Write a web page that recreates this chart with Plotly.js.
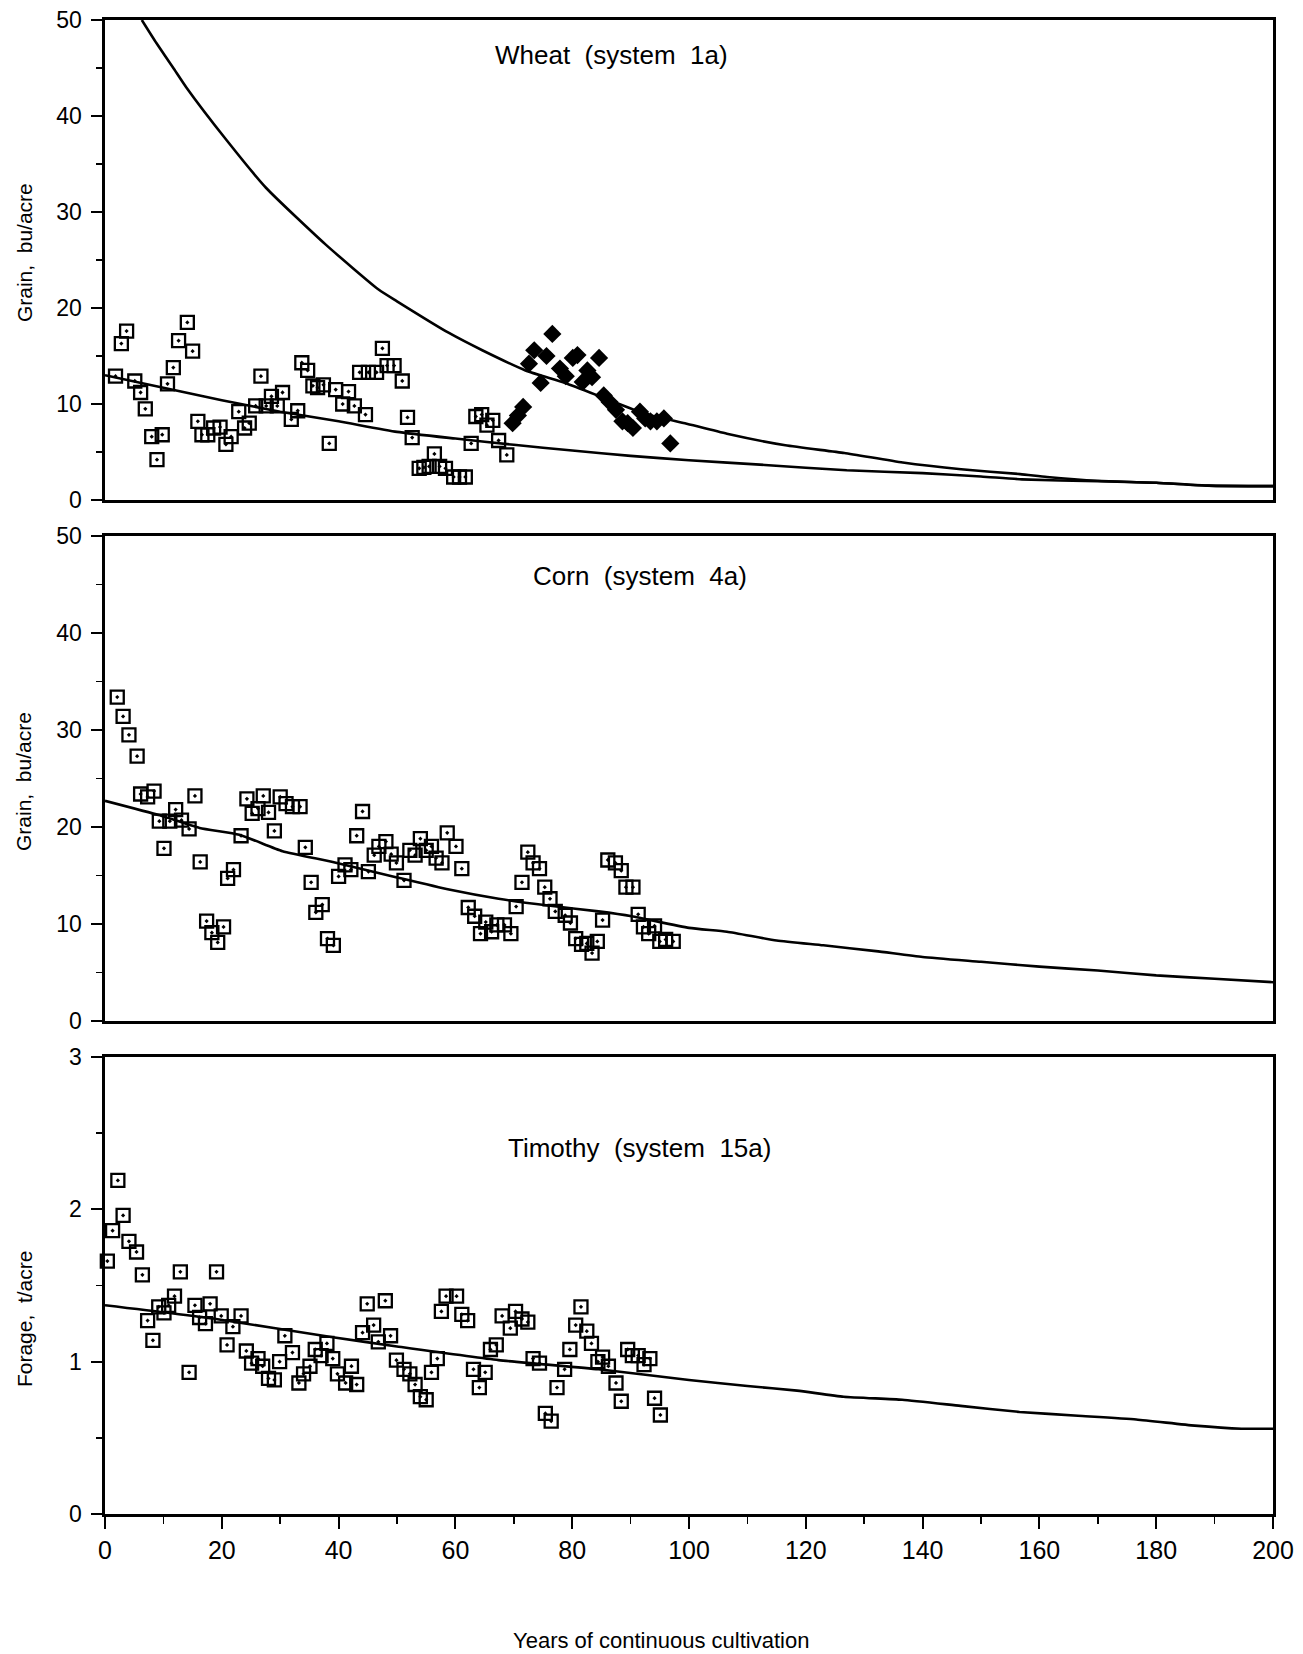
<!DOCTYPE html>
<html>
<head>
<meta charset="utf-8">
<script src="https://cdn.plot.ly/plotly-3.0.1.min.js"></script>
<style>html,body{margin:0;padding:0;background:#fff;}#chart{width:1303px;height:1654px;}</style>
</head>
<body>
<div id="chart"></div>
<script>
// ---- Wheat (system 1a) ----
var wheatYears = [1.8,2.8,3.7,5.1,6.1,6.9,8.0,8.9,9.8,10.7,11.7,12.6,14.1,15.0,15.9,16.6,17.6,18.6,19.7,20.7,21.6,22.9,23.9,24.7,25.8,26.7,27.6,28.5,29.5,30.4,31.9,33.0,33.7,34.7,35.6,36.4,37.4,38.4,39.5,40.7,41.7,42.7,43.6,44.6,45.1,46.5,47.5,48.3,49.5,50.9,51.8,52.6,53.8,54.6,55.5,56.4,57.3,58.3,59.7,60.7,61.7,62.7,63.5,64.5,65.4,66.4,67.4,68.8];
var wheatYield = [12.9,16.3,17.6,12.4,11.2,9.5,6.6,4.2,6.8,12.1,13.8,16.6,18.5,15.5,8.2,6.8,6.8,7.5,7.6,5.8,6.6,9.2,7.5,8.0,9.8,12.9,9.8,10.8,9.8,11.2,8.4,9.3,14.3,13.5,11.9,11.7,12.0,5.9,11.5,10.0,11.3,9.8,13.3,8.9,13.3,13.3,15.8,14.0,14.0,12.4,8.6,6.5,3.3,3.4,3.5,4.8,3.5,3.3,2.4,2.4,2.4,5.9,8.7,8.9,7.8,8.3,6.2,4.7];
var wheatLaterYears = [69.8,70.7,71.6,72.6,73.5,74.6,75.6,76.6,77.9,78.9,80.1,80.9,81.8,82.6,83.4,84.6,85.4,86.4,87.5,88.6,89.5,90.4,91.6,92.5,93.4,94.5,95.7,96.8];
var wheatLaterYield = [8.0,8.8,9.7,14.2,15.6,12.2,15.0,17.3,13.7,12.9,14.8,15.1,12.3,13.5,12.8,14.8,10.9,10.2,9.4,8.2,8.0,7.5,9.2,8.5,8.2,8.2,8.5,5.9];
var wheatUpperCurveX = [6.3,8.8,11.7,13.9,20.8,27.6,37.8,46.9,50,58.9,64.6,72,78.8,85.6,92.4,99.3,106.5,116.5,126.6,136.6,146.6,156.7,161.3,170,180,188.8,200];
var wheatUpperCurveY = [50,47.6,45.0,43.0,37.5,32.5,26.6,21.9,20.7,17.4,15.6,13.5,12.2,10.6,9.0,8.0,6.9,5.7,4.9,3.9,3.2,2.7,2.4,2.0,1.8,1.5,1.45];
var wheatLowerCurveX = [0,10,20,30,40,50,60,70,80,90,100,113,127,140,150,157,170,180,189,200];
var wheatLowerCurveY = [13.0,11.7,10.4,9.2,8.2,7.1,6.4,5.75,5.15,4.6,4.15,3.65,3.1,2.8,2.45,2.15,1.95,1.8,1.5,1.45];

// ---- Corn (system 4a) ----
var cornYears = [2.1,3.1,4.1,5.5,6.1,7.3,8.4,9.3,10.1,11.1,12.1,13.1,14.4,15.4,16.3,17.4,18.3,19.3,20.3,21.0,22.0,23.3,24.3,25.2,26.2,27.1,28.0,29.0,30.0,31.0,32.1,33.4,34.3,35.3,36.1,37.2,38.1,39.1,40.0,41.1,42.1,43.1,44.1,45.1,46.1,46.9,48.1,49.0,49.9,51.2,52.2,53.1,54.0,55.0,55.9,56.7,57.7,58.6,60.1,61.1,62.2,63.3,64.3,65.2,66.2,67.1,68.4,69.5,70.4,71.4,72.4,73.3,74.4,75.3,76.2,77.1,78.8,79.7,80.6,81.6,82.5,83.4,84.3,85.2,86.1,87.4,88.4,89.2,90.4,91.3,92.2,93.1,94.1,95.0,96.0,97.3];
var cornYield = [33.4,31.4,29.5,27.3,23.4,23.1,23.7,20.6,17.8,20.6,21.8,20.7,19.8,23.2,16.4,10.3,9.1,8.1,9.7,14.7,15.6,19.1,22.9,21.4,21.9,23.2,21.5,19.6,23.1,22.4,22.1,22.1,17.9,14.3,11.2,12.0,8.5,7.8,14.9,16.1,15.6,19.1,21.6,15.4,17.1,18.0,18.5,17.2,16.3,14.5,17.6,17.1,18.8,17.6,18.0,16.8,16.3,19.4,18.0,15.7,11.7,10.8,9.0,10.2,9.2,9.9,9.9,9.0,11.8,14.3,17.4,16.3,15.7,13.8,12.6,11.3,10.9,10.1,8.5,7.9,8.0,7.0,8.2,10.4,16.6,16.3,15.5,13.8,13.8,11.0,9.7,9.0,9.8,8.2,8.4,8.2];
var cornCurveX = [0,9.4,16.2,23,30.4,39,50,58.9,67.4,75.9,84.5,90.2,100,106.5,115,123,132,140,150,160,170,180,190,200];
var cornCurveY = [22.7,21.2,19.9,19.2,17.5,16.4,14.8,13.55,12.6,11.9,11.3,10.8,9.6,9.2,8.3,7.8,7.2,6.6,6.1,5.6,5.2,4.7,4.35,4.0];

// ---- Timothy (system 15a) ----
var timothyYears = [0.4,1.3,2.2,3.1,4.1,5.4,6.4,7.3,8.2,9.2,10.1,10.9,11.9,12.9,14.4,15.4,16.2,17.2,18.0,19.1,19.9,20.9,21.9,23.3,24.2,25.1,26.2,27.0,28.0,29.0,29.9,30.8,32.1,33.2,34.0,35.1,36.0,37.0,38.0,39.0,39.8,41.2,42.2,43.1,44.1,44.9,46.0,46.8,48.0,48.9,49.9,51.2,52.2,53.1,54.0,55.0,55.9,56.9,57.6,58.4,60.2,61.1,62.1,63.1,64.1,65.1,66.0,67.0,68.0,69.4,70.3,71.4,72.4,73.3,74.4,75.4,76.4,77.4,78.7,79.6,80.6,81.5,82.5,83.3,84.4,85.2,86.2,87.5,88.4,89.5,90.3,91.3,92.3,93.3,94.1,95.1];
var timothyYield = [1.66,1.86,2.19,1.96,1.79,1.72,1.57,1.27,1.14,1.36,1.32,1.37,1.43,1.59,0.93,1.37,1.29,1.25,1.38,1.59,1.30,1.11,1.23,1.30,1.07,0.99,1.02,0.97,0.89,0.88,1.00,1.17,1.06,0.86,0.92,0.97,1.08,1.04,1.12,1.02,0.92,0.86,0.97,0.85,1.19,1.38,1.24,1.13,1.40,1.17,1.01,0.95,0.92,0.85,0.77,0.75,0.93,1.02,1.33,1.43,1.43,1.31,1.27,0.95,0.83,0.93,1.08,1.11,1.30,1.22,1.33,1.28,1.26,1.02,0.99,0.66,0.61,0.83,0.95,1.08,1.24,1.36,1.20,1.12,1.00,1.03,0.97,0.86,0.74,1.08,1.04,1.04,0.98,1.02,0.76,0.65];
var timothyCurveX = [0,19,39,50,67.4,84.5,100,110,118.5,126.5,136.5,146.5,156.6,166.6,176.6,186.6,194.6,200];
var timothyCurveY = [1.37,1.28,1.16,1.10,1.01,0.95,0.88,0.84,0.81,0.77,0.75,0.71,0.67,0.645,0.62,0.58,0.56,0.56];

var panelTitles = ["Wheat\u00a0 (system\u00a0 1a)", "Corn\u00a0 (system\u00a0 4a)", "Timothy\u00a0 (system\u00a0 15a)"];
var yTitles = ["Grain,\u00a0 bu/acre", "Grain,\u00a0 bu/acre", "Forage,\u00a0 t/acre"];
var xTitle = "Years of continuous cultivation";

var FONT = "Liberation Sans, Arial, Helvetica, sans-serif";
var sq = {symbol: "square-open-dot", size: 13, color: "#000", line: {color: "#000", width: 2.3}};
var lineStyle = {color: "#000", width: 2.6, shape: "spline", smoothing: 0.5};

var traces = [
  {x: wheatUpperCurveX, y: wheatUpperCurveY, xaxis: "x", yaxis: "y", mode: "lines", line: lineStyle, hoverinfo: "skip"},
  {x: wheatLowerCurveX, y: wheatLowerCurveY, xaxis: "x", yaxis: "y", mode: "lines", line: lineStyle, hoverinfo: "skip"},
  {x: wheatYears, y: wheatYield, xaxis: "x", yaxis: "y", mode: "markers", marker: sq, cliponaxis: false},
  {x: wheatLaterYears, y: wheatLaterYield, xaxis: "x", yaxis: "y", mode: "markers", marker: {symbol: "diamond", size: 14, color: "#000"}, cliponaxis: false},
  {x: cornCurveX, y: cornCurveY, xaxis: "x2", yaxis: "y2", mode: "lines", line: lineStyle, hoverinfo: "skip"},
  {x: cornYears, y: cornYield, xaxis: "x2", yaxis: "y2", mode: "markers", marker: sq, cliponaxis: false},
  {x: timothyCurveX, y: timothyCurveY, xaxis: "x3", yaxis: "y3", mode: "lines", line: lineStyle, hoverinfo: "skip"},
  {x: timothyYears, y: timothyYield, xaxis: "x3", yaxis: "y3", mode: "markers", marker: sq, cliponaxis: false}
];

function xAx(anchor, showLabels) {
  var a = {anchor: anchor, range: [0, 200], showline: true, mirror: true, linecolor: "#000", linewidth: 2.6,
    showgrid: false, zeroline: false, fixedrange: true};
  if (showLabels) {
    a.ticks = "outside"; a.dtick = 20; a.tick0 = 0; a.ticklen = 12; a.tickwidth = 2; a.tickcolor = "#000";
    a.minor = {dtick: 10, tick0: 0, ticks: "outside", ticklen: 7, tickwidth: 1.5, tickcolor: "#000", showgrid: false};
    a.tickfont = {family: FONT, size: 25, color: "#000"};
    a.showticklabels = true;
  } else {
    a.ticks = ""; a.showticklabels = false;
  }
  return a;
}
function yAx(anchor, domain, range, dtick, minor) {
  return {anchor: anchor, domain: domain, range: range, dtick: dtick, tick0: 0,
    showline: true, mirror: true, linecolor: "#000", linewidth: 2.6, showgrid: false, zeroline: false,
    ticks: "outside", ticklen: 11, tickwidth: 2, tickcolor: "#000",
    minor: {dtick: minor, tick0: 0, ticks: "outside", ticklen: 6, tickwidth: 1.5, tickcolor: "#000", showgrid: false},
    tickfont: {family: FONT, size: 23, color: "#000"}, ticklabelstandoff: 5, fixedrange: true};
}

var annFont = {family: FONT, size: 26, color: "#000"};
var yTitleFont = {family: FONT, size: 21, color: "#000"};
var layout = {
  width: 1303, height: 1654,
  margin: {l: 105, r: 30, t: 20, b: 140},
  paper_bgcolor: "#fff", plot_bgcolor: "#fff",
  showlegend: false,
  font: {family: FONT, color: "#000"},
  xaxis: xAx("y", false),
  xaxis2: xAx("y2", false),
  xaxis3: xAx("y3", true),
  yaxis: yAx("x", [0.6787, 1], [0, 50], 10, 5),
  yaxis2: yAx("x2", [0.33, 0.6546], [0, 50], 10, 5),
  yaxis3: yAx("x3", [0, 0.3059], [0, 3], 1, 0.5),
  annotations: [
    {text: panelTitles[0], xref: "paper", yref: "paper", x: 0.434, y: 0.9766, xanchor: "center", yanchor: "middle", showarrow: false, font: annFont},
    {text: panelTitles[1], xref: "paper", yref: "paper", x: 0.458, y: 0.6278, xanchor: "center", yanchor: "middle", showarrow: false, font: annFont},
    {text: panelTitles[2], xref: "paper", yref: "paper", x: 0.458, y: 0.245, xanchor: "center", yanchor: "middle", showarrow: false, font: annFont},
    {text: yTitles[0], xref: "paper", yref: "paper", x: -0.0693, y: 0.844, xanchor: "center", yanchor: "middle", textangle: -90, showarrow: false, font: yTitleFont},
    {text: yTitles[1], xref: "paper", yref: "paper", x: -0.0693, y: 0.49, xanchor: "center", yanchor: "middle", textangle: -90, showarrow: false, font: yTitleFont},
    {text: yTitles[2], xref: "paper", yref: "paper", x: -0.0693, y: 0.1305, xanchor: "center", yanchor: "middle", textangle: -90, showarrow: false, font: yTitleFont},
    {text: xTitle, xref: "paper", yref: "paper", x: 0.476, y: -0.0845, xanchor: "center", yanchor: "middle", showarrow: false, font: {family: FONT, size: 22, color: "#000"}}
  ]
};

Plotly.newPlot("chart", traces, layout, {displayModeBar: false, staticPlot: true});
</script>
</body>
</html>
